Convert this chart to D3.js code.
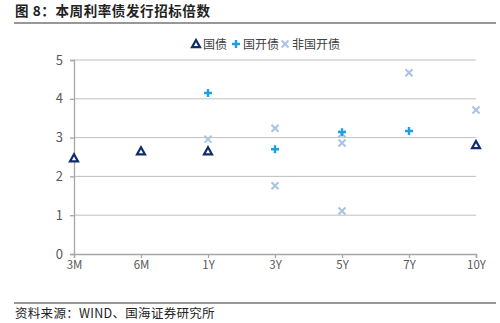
<!DOCTYPE html>
<html><head><meta charset="utf-8">
<script src="https://cdn.jsdelivr.net/npm/d3@7"></script>
<style>body{margin:0;background:#fff;}svg{display:block;font-family:"Noto Sans CJK SC","Liberation Sans",sans-serif;}</style>
</head><body>
<svg id="c" width="500" height="323"></svg>
<script>
const categories = ["3M","6M","1Y","3Y","5Y","7Y","10Y"];
const yTicks = [0,1,2,3,4,5];
const govCats = ["3M","6M","1Y","10Y"];
const govVals = [2.47, 2.65, 2.65, 2.81];
const cdbCats = ["1Y","3Y","5Y","7Y"];
const cdbVals = [4.15, 2.70, 3.14, 3.17];
const nonCats = ["1Y","3Y","3Y","5Y","5Y","5Y","7Y","10Y"];
const nonVals = [2.96, 3.24, 1.76, 3.10, 2.86, 1.11, 4.67, 3.71];
const seriesNames = ["国债","国开债","非国开债"];
const colors = ["#0F2C6E","#1BA1E2","#A8C3E3"];

const svg = d3.select("#c");
// title
svg.append("text").attr("x",15).attr("y",16).attr("font-size",13.5).attr("font-weight","bold")
  .attr("letter-spacing",0.6).attr("fill","#222").text("图 8：本周利率债发行招标倍数");
svg.append("line").attr("x1",14).attr("x2",496).attr("y1",23).attr("y2",23).attr("stroke","#333").attr("stroke-width",1.2);
svg.append("line").attr("x1",14).attr("x2",496).attr("y1",303).attr("y2",303).attr("stroke","#333").attr("stroke-width",1.2);
svg.append("text").attr("x",15).attr("y",318).attr("font-size",12.5).attr("letter-spacing",0.3).attr("fill","#222").text("资料来源：WIND、国海证券研究所");

const x = d3.scalePoint().domain(categories).range([74,476]);
const y = d3.scaleLinear().domain([0,5]).range([254,60]);

// gridlines
svg.append("g").selectAll("line").data(yTicks.filter(d=>d>0)).join("line")
  .attr("x1",74).attr("x2",476).attr("y1",d=>y(d)).attr("y2",d=>y(d))
  .attr("stroke","#BFBFBF").attr("stroke-width",1);

const yAxis = svg.append("g").attr("transform","translate(74,0)")
  .call(d3.axisLeft(y).tickValues(yTicks).tickSize(4).tickPadding(7).tickFormat(d3.format("d")));
const xAxis = svg.append("g").attr("transform","translate(0,254)")
  .call(d3.axisBottom(x).tickSize(4).tickPadding(3));
[yAxis,xAxis].forEach(a=>{
  a.select(".domain").attr("stroke","#A6A6A6").attr("stroke-width",1.3);
  a.selectAll(".tick line").attr("stroke","#A6A6A6").attr("stroke-width",1.3);
  a.selectAll("text").attr("font-size",11.5).attr("fill","#595959").attr("font-family","'Noto Sans CJK SC',sans-serif");
});
yAxis.selectAll("text").attr("font-size",13);

function tri(g, c){ g.append("path").attr("d","M0,-4L4,3.2L-4,3.2Z").attr("fill","#fff").attr("stroke",c).attr("stroke-width",2.2).attr("stroke-linejoin","miter"); }
function plus(g, c){ g.append("path").attr("d","M-4,0H4M0,-4V4").attr("stroke",c).attr("stroke-width",2.4); }
function cross(g, c){ g.append("path").attr("d","M-3.5,-3.5L3.5,3.5M-3.5,3.5L3.5,-3.5").attr("stroke",c).attr("stroke-width",2); }
const drawers = [tri, plus, cross];

function drawSeries(cats, vals, i){
  svg.append("g").selectAll("g").data(cats.map((c,k)=>({c, v: vals[k]}))).join("g")
    .attr("transform", d=>`translate(${x(d.c)},${y(d.v)})`)
    .each(function(){ drawers[i](d3.select(this), colors[i]); });
}
drawSeries(nonCats, nonVals, 2);
drawSeries(cdbCats, cdbVals, 1);
drawSeries(govCats, govVals, 0);

// legend
const legX = [196, 236, 285];
const lg = svg.append("g");
seriesNames.forEach((n,i)=>{
  const g = lg.append("g").attr("transform",`translate(${legX[i]},44)`);
  drawers[i](g, colors[i]);
  g.append("text").attr("x",7).attr("y",4.5).attr("font-size",12).attr("fill","#404040").text(n);
});
</script>
</body></html>
